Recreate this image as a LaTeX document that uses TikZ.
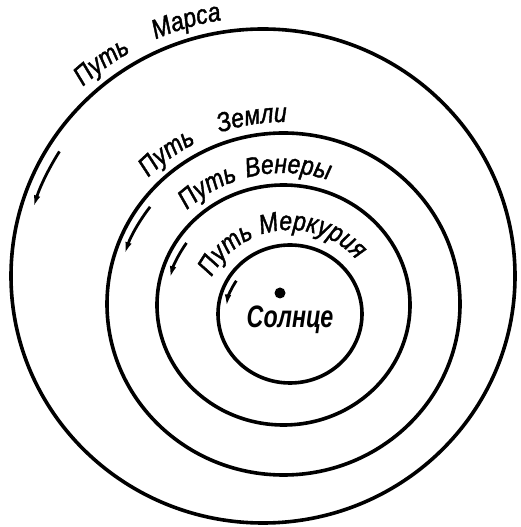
\documentclass[tikz,border=0pt]{standalone}
\usepackage{fontspec}
\newfontfamily\orbitfont{Liberation Sans}[FakeStretch=0.85, FakeBold=1.5]
\newfontfamily\sunfont{Liberation Sans}[FakeStretch=0.75]
\usetikzlibrary{arrows.meta, decorations.text}

\begin{document}
\begin{tikzpicture}[
    x=1pt, y=1pt,
    orbit/.style={line width=3.6pt},
    motion/.style={line width=2.8pt, -{Latex[length=12pt,width=6.5pt]}},
    orbitlabel/.style={decorate, decoration={text along path, text align={fit to path stretching spaces},
        text={|\orbitfont\itshape\fontsize{27}{27}\selectfont|#1}}}
]
\useasboundingbox (0,0) rectangle (520,527);

% centres of the orbits
\coordinate (mars) at (263,251);
\coordinate (earth) at (283.5,223);
\coordinate (venus) at (283.5,222);
\coordinate (mercury) at (290,213);
\coordinate (sun) at (280,234);

% orbits
\draw[orbit] (mars) ellipse [x radius=252, y radius=247];
\draw[orbit] (earth) ellipse [x radius=176.5, y radius=171];
\draw[orbit] (venus) ellipse [x radius=126.5, y radius=120];
\draw[orbit] (mercury) ellipse [x radius=72, y radius=69];

% direction of motion
\draw[motion] (mars) ++(148:240 and 235) arc[start angle=148, end angle=163, x radius=240, y radius=235];
\draw[motion] (earth) ++(143:167 and 161.5) arc[start angle=143, end angle=162, x radius=167, y radius=161.5];
\draw[motion] (venus) ++(146:117 and 111) arc[start angle=146, end angle=166, x radius=117, y radius=111];
\draw[motion] (mercury) ++(147:64 and 61) arc[start angle=147, end angle=173, x radius=64, y radius=61];

% names of the orbits
\path[orbitlabel={Путь Марса}] (mars) ++(133:264 and 259) arc[start angle=133, end angle=99, x radius=264, y radius=259];
\path[orbitlabel={Путь Земли}] (earth) ++(136:188 and 182) arc[start angle=136, end angle=89, x radius=188, y radius=182];
\path[orbitlabel={Путь Венеры}] (venus) ++(134:139 and 132) arc[start angle=134, end angle=71, x radius=139, y radius=132];
\path[orbitlabel={Путь Меркурия}] (mercury) ++(154:87 and 84) arc[start angle=154, end angle=40, x radius=87, y radius=84];

% the Sun
\fill (sun) circle[radius=5.5];
\node[font=\sunfont\bfseries\itshape\fontsize{31}{31}\selectfont] (sunlabel) at (290,207) {Солнце};

\end{tikzpicture}
\end{document}
